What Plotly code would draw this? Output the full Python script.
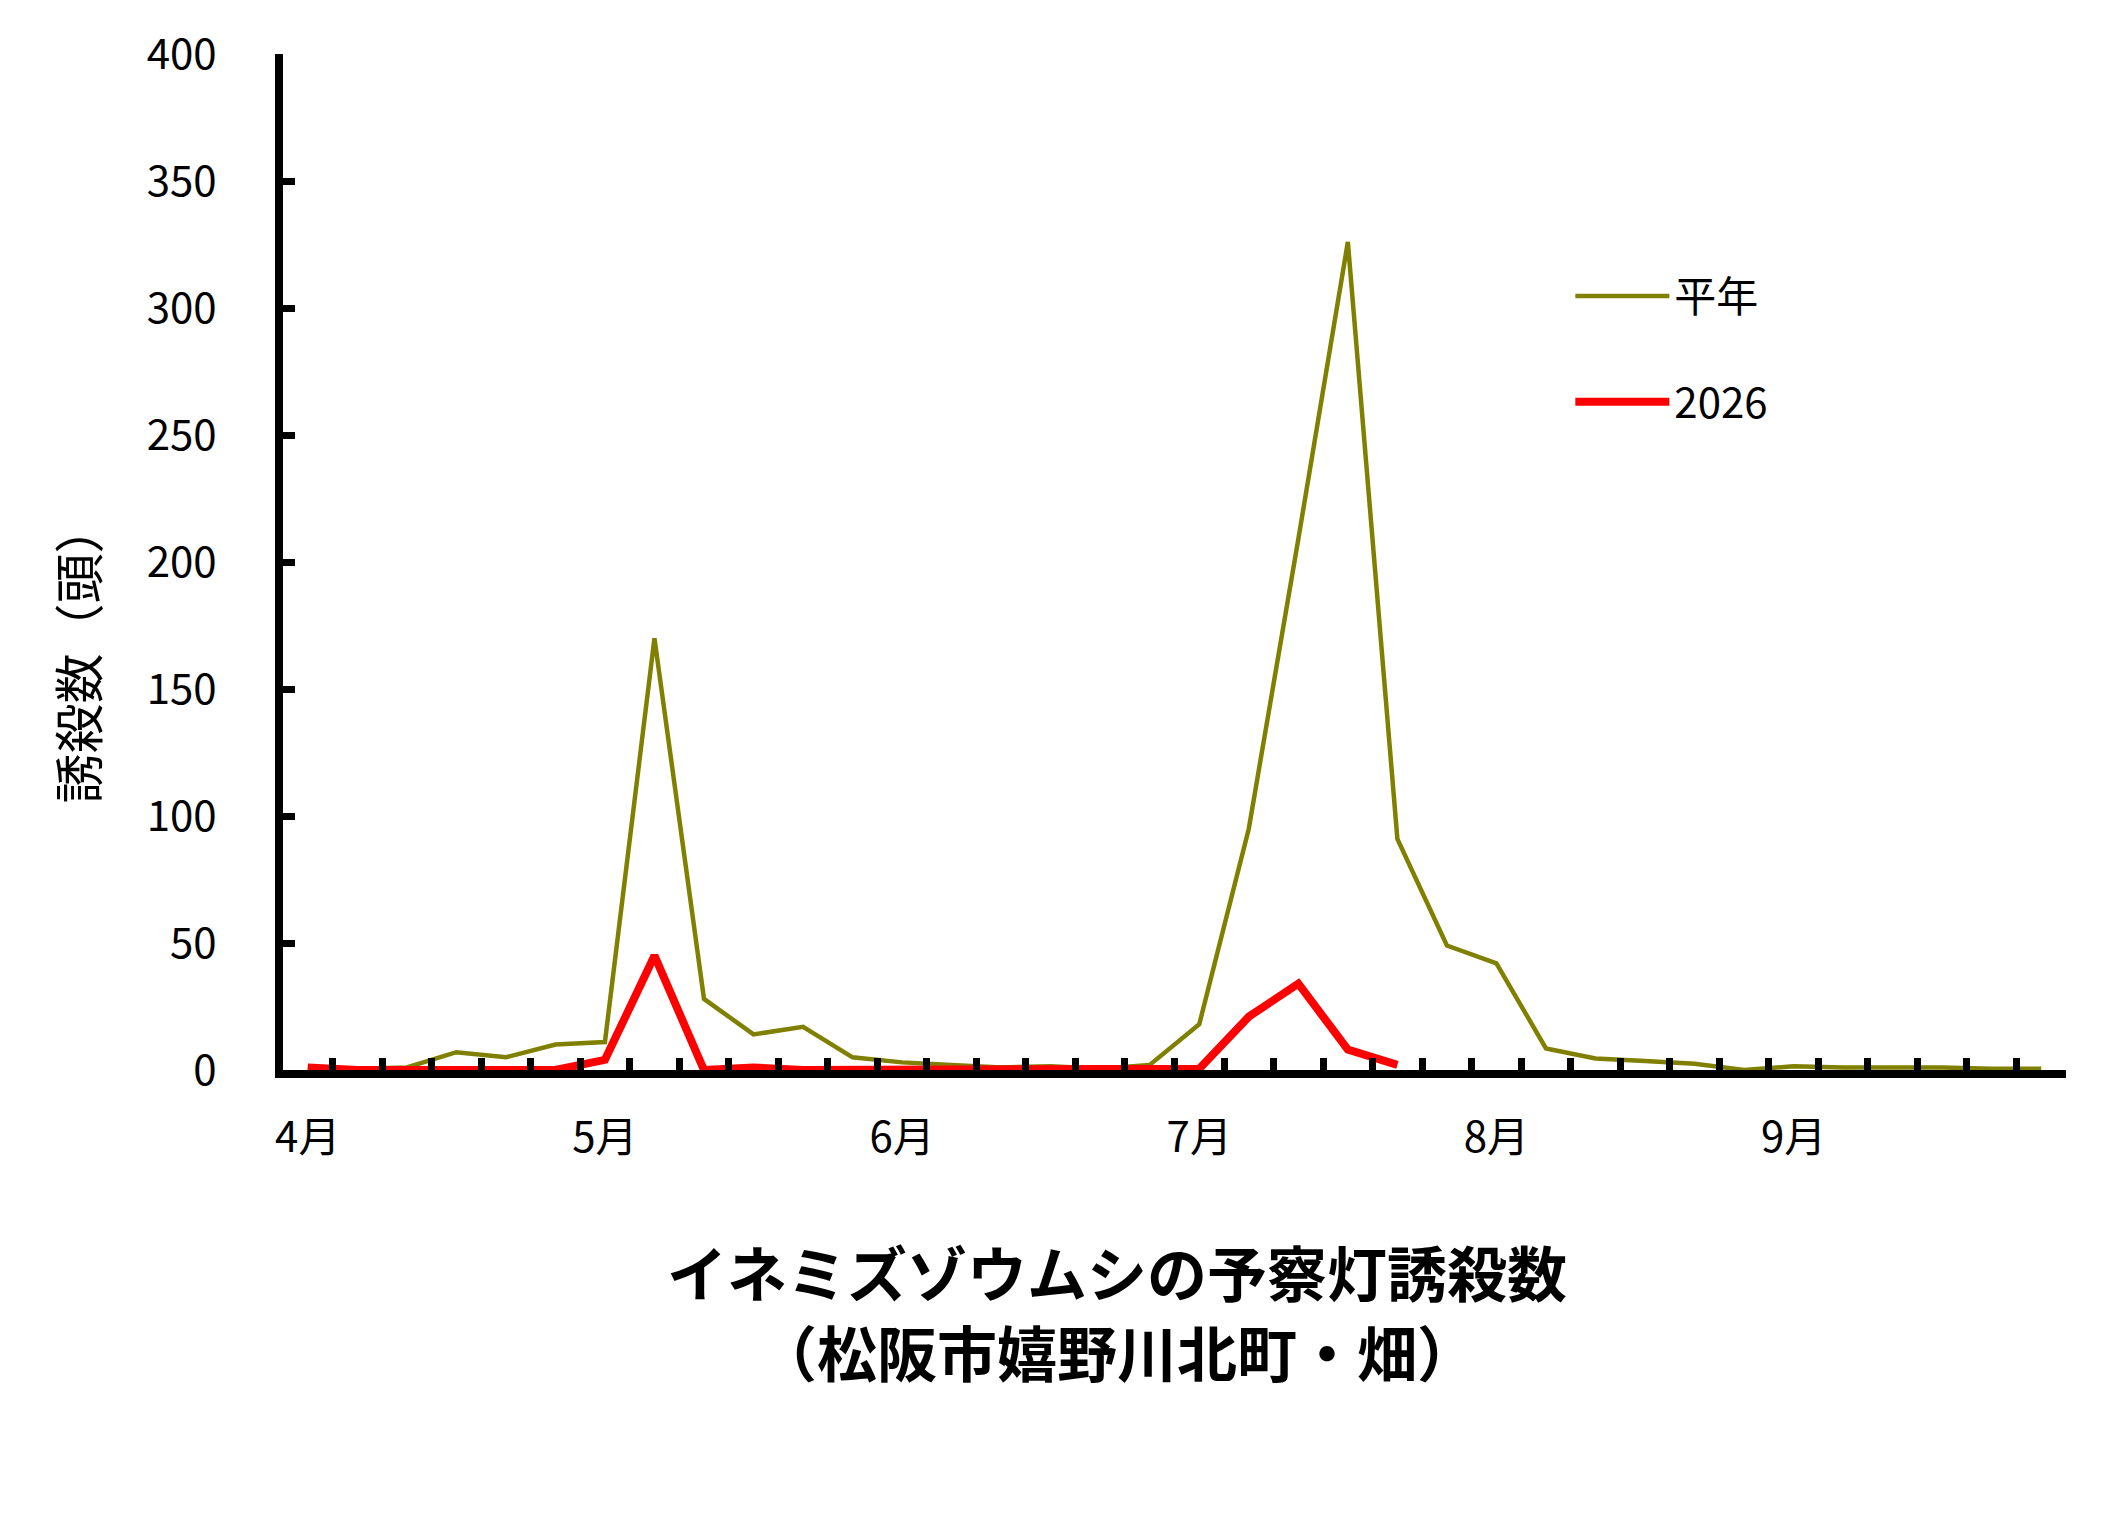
import plotly.graph_objects as go

# 半旬ごとの誘殺数 (4月1半旬 ～ 9月6半旬)
months = ["4月", "5月", "6月", "7月", "8月", "9月"]
periods = [f"{m}{k}半旬" for m in months for k in range(1, 7)]

heinen = [1, 0.5, 1, 7, 5, 10, 11, 170, 28, 14, 17, 5,
          3, 2, 1, 1.5, 0.5, 2, 18, 95, 209, 326, 91, 49,
          42, 8.5, 4.5, 3.5, 2.5, 0, 1.5, 1, 1, 1, 0.5, 0.5]

y2026 = [1, 0, 0, 0, 0, 0, 4, 45, 0, 1, 0, 0,
         0, 0, 0, 0, 0, 0, 0.5, 21, 34, 8, 2, None,
         None, None, None, None, None, None, None, None, None, None, None, None]

tick_text = [p[:2] if p.endswith("1半旬") else "" for p in periods]

title_lines = ["イネミズゾウムシの予察灯誘殺数", "（松阪市嬉野川北町・畑）"]
y_title = "誘殺数（頭）"

font_jp = "Noto Sans CJK JP"

fig = go.Figure()

fig.add_trace(go.Scatter(x=periods, y=heinen, mode='lines', name='平年',
                         line=dict(color='#808000', width=4.5),
                         legendgroup='a'))
fig.add_trace(go.Scatter(x=periods, y=y2026, mode='lines', name='2026',
                         line=dict(color='#ff0000', width=8),
                         legendgroup='b'))

fig.update_layout(
    width=2102, height=1526,
    paper_bgcolor='white', plot_bgcolor='white',
    margin=dict(l=275, r=44, t=36, b=464),
    font=dict(family=font_jp, size=42, color='black'),
    showlegend=True,
    legend=dict(x=0.722, y=0.795, xanchor='left', yanchor='top',
                font=dict(family=font_jp, size=42),
                bgcolor='rgba(0,0,0,0)', itemwidth=94,
                tracegroupgap=48),
)

# タイトル (グラフ下)
fig.add_annotation(text=f"<b>{title_lines[0]}</b>", xref='paper', yref='paper',
                   x=0.468, y=-0.197, xanchor='center', yanchor='middle',
                   showarrow=False, font=dict(family=font_jp, size=60))
fig.add_annotation(text=f"<b>{title_lines[1]}</b>", xref='paper', yref='paper',
                   x=0.468, y=-0.276, xanchor='center', yanchor='middle',
                   showarrow=False, font=dict(family=font_jp, size=60))

# 縦軸タイトル
fig.add_annotation(text=y_title, xref='paper', yref='paper',
                   x=-0.116, y=0.41, xanchor='center', yanchor='middle',
                   textangle=-90, showarrow=False,
                   font=dict(family=font_jp, size=50))

fig.update_xaxes(
    type='category', categoryorder='array', categoryarray=periods,
    range=[-0.5, 35.5],
    tickmode='array', tickvals=periods, ticktext=tick_text, tickangle=0,
    tickson='boundaries', ticks='inside', ticklen=12, tickwidth=7,
    tickcolor='black', ticklabelstandoff=24,
    tickfont=dict(family=font_jp, size=42),
    showline=True, linecolor='black', linewidth=8,
    showgrid=False, zeroline=False,
)

fig.update_yaxes(
    range=[0, 400], dtick=50, tick0=0,
    ticks='inside', ticklen=12, tickwidth=7, tickcolor='black',
    ticklabelstandoff=50,
    tickfont=dict(family=font_jp, size=42),
    showline=True, linecolor='black', linewidth=8,
    showgrid=False, zeroline=False,
)

fig.write_html("out.html")
